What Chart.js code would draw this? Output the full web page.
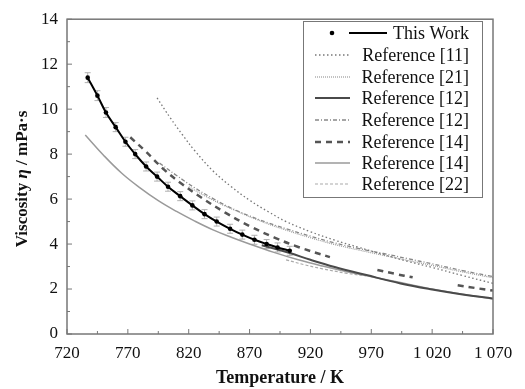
<!DOCTYPE html>
<html>
<head>
<meta charset="utf-8">
<script src="https://cdn.jsdelivr.net/npm/chart.js@4.4.1/dist/chart.umd.min.js"></script>
<style>
html, body { margin: 0; padding: 0; background: #fff; }
</style>
</head>
<body>
<canvas id="myChart" width="525" height="389"></canvas>
<script>
// datos (T en K, viscosidad en mPa·s)
const thisWorkT = [737, 745, 752, 760, 768, 776, 785, 794, 803, 813, 823, 833, 843, 854, 864, 874, 884, 893, 903];
const thisWorkV = [11.4, 10.6, 9.85, 9.2, 8.55, 8.0, 7.45, 7.0, 6.55, 6.13, 5.72, 5.33, 5.0, 4.68, 4.42, 4.19, 4.0, 3.85, 3.7];
const thisWorkErr = [0.22, 0.22, 0.22, 0.2, 0.2, 0.2, 0.2, 0.2, 0.2, 0.2, 0.2, 0.2, 0.2, 0.2, 0.2, 0.2, 0.2, 0.2, 0.2];

const ref11T = [794, 805, 815, 825, 840, 855, 870, 885, 900, 920, 940, 960, 980, 1000, 1020, 1045, 1070];
const ref11V = [10.5, 9.6, 8.85, 8.15, 7.25, 6.55, 5.95, 5.45, 5.0, 4.55, 4.17, 3.85, 3.53, 3.23, 2.96, 2.6, 2.25];

const ref21T = [820, 840, 860, 880, 900, 920, 940, 960, 980, 1000, 1020, 1045, 1070];
const ref21V = [6.55, 5.95, 5.45, 5.0, 4.62, 4.28, 3.98, 3.73, 3.5, 3.27, 3.05, 2.76, 2.5];

const ref12aT = [880, 903, 920, 940, 966, 994, 1020, 1045, 1070];
const ref12aV = [3.95, 3.6, 3.3, 2.98, 2.62, 2.25, 1.98, 1.76, 1.58];

const ref12bT = [796, 810, 825, 840, 855, 870, 885, 900, 920, 940, 960, 980, 1000, 1020, 1045, 1070];
const ref12bV = [7.6, 7.05, 6.5, 6.02, 5.6, 5.25, 4.95, 4.68, 4.35, 4.05, 3.8, 3.58, 3.35, 3.12, 2.82, 2.55];

const ref14aT = [772, 785, 800, 815, 830, 850, 870, 890, 910, 936, 955, 975, 990, 1004, 1022, 1041, 1055, 1070];
const ref14aV = [8.75, 8.1, 7.3, 6.65, 6.08, 5.4, 4.8, 4.3, 3.87, 3.42, null, 2.85, 2.67, 2.52, null, 2.17, 2.05, 1.93];

const ref14bT = [735, 750, 765, 780, 795, 810, 825, 840, 855, 870, 890, 910, 930, 950, 970, 995, 1020, 1045, 1070];
const ref14bV = [8.85, 7.95, 7.15, 6.5, 5.93, 5.45, 5.02, 4.63, 4.3, 4.0, 3.63, 3.3, 3.02, 2.77, 2.55, 2.28, 2.0, 1.77, 1.56];

const ref22T = [900, 915, 930, 950, 966];
const ref22V = [3.3, 3.08, 2.9, 2.7, 2.58];

const xTicks = [720, 770, 820, 870, 920, 970, 1020, 1070];
const yTicks = [0, 2, 4, 6, 8, 10, 12, 14];

const serif = 'Liberation Serif, Times New Roman, serif';
const xy = (ts, vs) => ts.map((t, i) => ({ x: t, y: vs[i] }));

const linea = (label, ts, vs, color, width, dash, extra) => Object.assign({
  label: label,
  data: xy(ts, vs),
  borderColor: color,
  backgroundColor: color,
  borderWidth: width,
  borderDash: dash,
  pointRadius: 0,
  tension: 0.4,
  spanGaps: false
}, extra || {});

const datasets = [
  linea('This Work', thisWorkT, thisWorkV, '#000', 2, [], { pointRadius: 2.3, pointBackgroundColor: '#000', pointBorderWidth: 0 }),
  linea('Reference [11]', ref11T, ref11V, '#777', 1.3, [1.5, 2.5]),
  linea('Reference [21]', ref21T, ref21V, '#9a9a9a', 1.2, [1, 1]),
  linea('Reference [12]', ref12aT, ref12aV, '#4a4a4a', 2, []),
  linea('Reference [12]', ref12bT, ref12bV, '#888', 1.3, [4, 2, 1, 2]),
  linea('Reference [14]', ref14aT, ref14aV, '#555', 2.5, [6, 5]),
  linea('Reference [14]', ref14bT, ref14bV, '#9a9a9a', 1.5, []),
  linea('Reference [22]', ref22T, ref22V, '#aaa', 1.2, [3, 2])
];

// barras de error de "This Work"
const errorBars = {
  id: 'errorBars',
  beforeDatasetsDraw(chart) {
    const { ctx, scales: { x, y } } = chart;
    ctx.save();
    ctx.strokeStyle = '#b0b0b0';
    ctx.lineWidth = 1;
    thisWorkT.forEach((t, i) => {
      const px = x.getPixelForValue(t);
      const y1 = y.getPixelForValue(thisWorkV[i] + thisWorkErr[i]);
      const y2 = y.getPixelForValue(thisWorkV[i] - thisWorkErr[i]);
      ctx.beginPath();
      ctx.moveTo(px, y1); ctx.lineTo(px, y2);
      ctx.moveTo(px - 3, y1); ctx.lineTo(px + 3, y1);
      ctx.moveTo(px - 3, y2); ctx.lineTo(px + 3, y2);
      ctx.stroke();
    });
    ctx.restore();
  }
};

// marco, ticks hacia dentro, titulo eje y y leyenda
const decor = {
  id: 'decor',
  afterDraw(chart) {
    const { ctx, chartArea: a, scales: { x, y } } = chart;
    ctx.save();
    ctx.strokeStyle = '#777';
    ctx.lineWidth = 1.5;
    ctx.strokeRect(a.left, a.top, a.right - a.left, a.bottom - a.top);
    ctx.lineWidth = 1;
    for (let t = 720; t <= 1070; t += 25) {
      const px = x.getPixelForValue(t);
      const len = (t - 720) % 50 === 0 ? 5 : 3;
      ctx.beginPath(); ctx.moveTo(px, a.bottom); ctx.lineTo(px, a.bottom - len); ctx.stroke();
    }
    for (let v = 0; v <= 14; v += 1) {
      const py = y.getPixelForValue(v);
      const len = v % 2 === 0 ? 5 : 3;
      ctx.beginPath(); ctx.moveTo(a.left, py); ctx.lineTo(a.left + len, py); ctx.stroke();
    }

    // titulo del eje y con eta en cursiva
    const parts = [
      ['bold 17px ' + serif, 'Viscosity '],
      ['italic bold 17px ' + serif, 'η'],
      ['bold 17px ' + serif, ' / mPa·s']
    ];
    let total = 0;
    parts.forEach(p => { ctx.font = p[0]; total += ctx.measureText(p[1]).width; });
    ctx.translate(23, 179);
    ctx.rotate(-Math.PI / 2);
    ctx.fillStyle = '#111';
    ctx.textBaseline = 'middle';
    let cx = -total / 2;
    parts.forEach(p => { ctx.font = p[0]; ctx.fillText(p[1], cx, 0); cx += ctx.measureText(p[1]).width; });
    ctx.setTransform(1, 0, 0, 1, 0, 0);

    // leyenda
    const bx = 303, by = 21, bw = 179, bh = 176;
    ctx.fillStyle = '#fff';
    ctx.fillRect(bx, by, bw, bh);
    ctx.strokeStyle = '#777';
    ctx.lineWidth = 1;
    ctx.strokeRect(bx + 0.5, by + 0.5, bw, bh);
    const rows = [33, 55, 77, 98, 120, 142, 163, 184];
    ctx.font = '18px ' + serif;
    ctx.textAlign = 'right';
    ctx.textBaseline = 'middle';
    chart.data.datasets.forEach((ds, i) => {
      const ry = rows[i];
      ctx.save();
      ctx.strokeStyle = ds.borderColor;
      ctx.lineWidth = ds.borderWidth;
      ctx.setLineDash(ds.borderDash);
      ctx.beginPath();
      if (i === 0) {
        ctx.moveTo(349, ry); ctx.lineTo(387, ry);
      } else {
        ctx.moveTo(315, ry); ctx.lineTo(350, ry);
      }
      ctx.stroke();
      ctx.restore();
      if (i === 0) {
        ctx.beginPath(); ctx.arc(332, ry, 2.3, 0, Math.PI * 2); ctx.fillStyle = '#000'; ctx.fill();
      }
      ctx.fillStyle = '#111';
      ctx.fillText(ds.label, 469, ry + 1);
    });
    ctx.restore();
  }
};

const config = {
  type: 'line',
  data: { datasets: datasets },
  options: {
    responsive: false,
    animation: false,
    layout: { padding: { top: 13, right: 32, left: 0, bottom: 0 } },
    plugins: { legend: { display: false }, tooltip: { enabled: false } },
    scales: {
      x: {
        type: 'linear',
        min: 720,
        max: 1070,
        afterBuildTicks: s => { s.ticks = xTicks.map(v => ({ value: v })); },
        afterFit: s => { s.height = 55; },
        grid: { display: false, drawTicks: false },
        border: { display: false },
        ticks: {
          color: '#111',
          padding: 9,
          maxRotation: 0,
          font: { family: serif, size: 17 },
          callback: v => v >= 1000 ? '1 ' + String(v).slice(1) : String(v)
        },
        title: { display: true, text: 'Temperature / K', color: '#111', font: { family: serif, size: 18, weight: 'bold' }, padding: { top: 0, bottom: 0 } }
      },
      y: {
        min: 0,
        max: 14,
        afterBuildTicks: s => { s.ticks = yTicks.map(v => ({ value: v })); },
        afterFit: s => { s.width = 67; },
        grid: { display: false, drawTicks: false },
        border: { display: false },
        ticks: { color: '#111', padding: 9, font: { family: serif, size: 17 } }
      }
    }
  },
  plugins: [errorBars, decor]
};

const myChart = new Chart(document.getElementById('myChart').getContext('2d'), config);
</script>
</body>
</html>
